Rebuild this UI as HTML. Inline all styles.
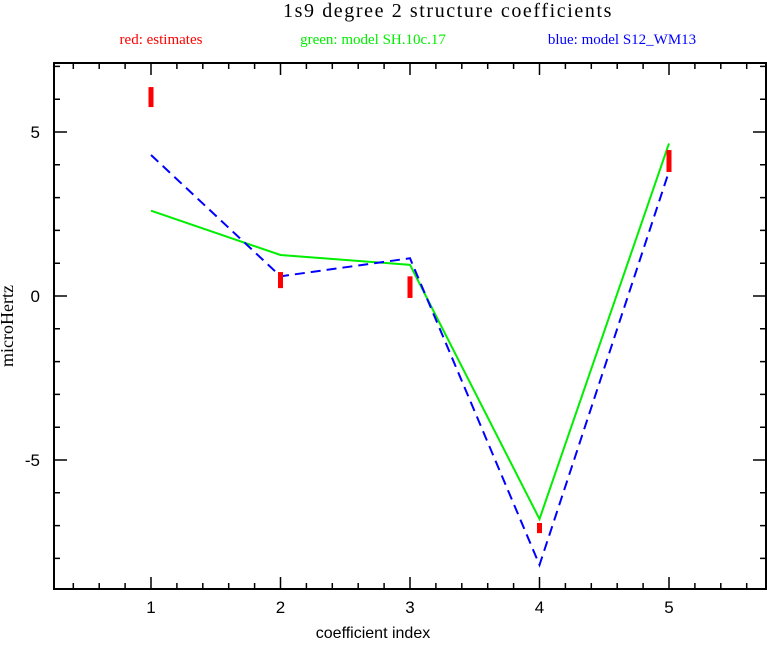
<!DOCTYPE html>
<html><head><meta charset="utf-8"><style>
body{margin:0;background:#fff;}
</style></head><body>
<svg id="chart" width="767" height="641" viewBox="0 0 767 641" xmlns="http://www.w3.org/2000/svg">
<rect width="767" height="641" fill="#fff"/>
<text x="448" y="17" style="font-family:'Liberation Serif',serif;font-size:20px;letter-spacing:1.6px" text-anchor="middle">1s9 degree 2 structure coefficients</text>
<text x="161" y="44" style="font-family:'Liberation Serif',serif;font-size:15px" fill="#ff0000" text-anchor="middle">red: estimates</text>
<text x="373" y="44" style="font-family:'Liberation Serif',serif;font-size:15px" fill="#00ee00" text-anchor="middle">green: model SH.10c.17</text>
<text x="622" y="44" style="font-family:'Liberation Serif',serif;font-size:15px" fill="#0000ff" text-anchor="middle">blue: model S12_WM13</text>
<text x="373" y="638" style="font-family:'Liberation Sans',sans-serif;font-size:16px" text-anchor="middle">coefficient index</text>
<text x="13" y="326" style="font-family:'Liberation Serif',serif;font-size:18px" text-anchor="middle" transform="rotate(-90 13 326)">microHertz</text>
<rect x="54" y="63" width="712" height="526" fill="none" stroke="#000" stroke-width="2"/>
<g id="ticks"></g>
<g id="marks"></g>
</svg>
<script>
const categories=[1,2,3,4,5];
const green=[2.6,1.25,0.95,-6.8,4.65];
const blue=[4.3,0.6,1.15,-8.2,3.8];
const redLow=[5.76,0.24,-0.06,-7.23,3.78];
const redHigh=[6.37,0.73,0.6,-6.92,4.45];
const xTickLabels=["1","2","3","4","5"];
const yTickValues=[-5,0,5];
const yTickLabels=["-5","0","5"];
const NS="http://www.w3.org/2000/svg";
function X(v){return 151+129.5*(v-1);}
function Y(v){return 296-32.8*v;}
const L=54,R=766,T=63,B=589;
const tg=document.getElementById('ticks');
const mg=document.getElementById('marks');
function mk(tag,attrs,parent){const e=document.createElementNS(NS,tag);for(const k in attrs)e.setAttribute(k,attrs[k]);parent.appendChild(e);return e;}
let d="";
for(let i=2;i<=28;i++){const v=i*0.2;const x=X(v);if(x<=L+1||x>=R-1)continue;const major=Math.abs(v-Math.round(v))<1e-6;const len=major?12:6;d+=`M${x},${B}V${B-len}M${x},${T}V${T+len}`;}
for(let v=-8;v<=7;v++){const y=Y(v);if(y<=T+1||y>=B-1)continue;const major=v%5===0;const len=major?13:6;d+=`M${L},${y}H${L+len}M${R},${y}H${R-len}`;}
const tp=mk('path',{d:d,stroke:'#000','stroke-width':1.5,fill:'none'},tg);


xTickLabels.forEach((t,i)=>{const e=mk('text',{x:X(categories[i]),y:613,style:"font-family:'Liberation Sans',sans-serif;font-size:17px",'text-anchor':'middle'},tg);e.textContent=t;

});
yTickValues.forEach((v,i)=>{const e=mk('text',{x:40,y:Y(v)+6,style:"font-family:'Liberation Sans',sans-serif;font-size:17px",'text-anchor':'end'},tg);e.textContent=yTickLabels[i];

});
const gl=mk('polyline',{points:categories.map((c,i)=>X(c)+','+Y(green[i])).join(' '),fill:'none',stroke:'#00ee00','stroke-width':2},mg);


const bl=mk('polyline',{points:categories.map((c,i)=>X(c)+','+Y(blue[i])).join(' '),fill:'none',stroke:'#0000ff','stroke-width':2,'stroke-dasharray':'10,6'},mg);


categories.forEach((c,i)=>{const r=mk('rect',{x:X(c)-2.5,y:Y(redHigh[i]),width:5,height:Y(redLow[i])-Y(redHigh[i]),fill:'#ff0000'},mg);

});
</script>
</body></html>
